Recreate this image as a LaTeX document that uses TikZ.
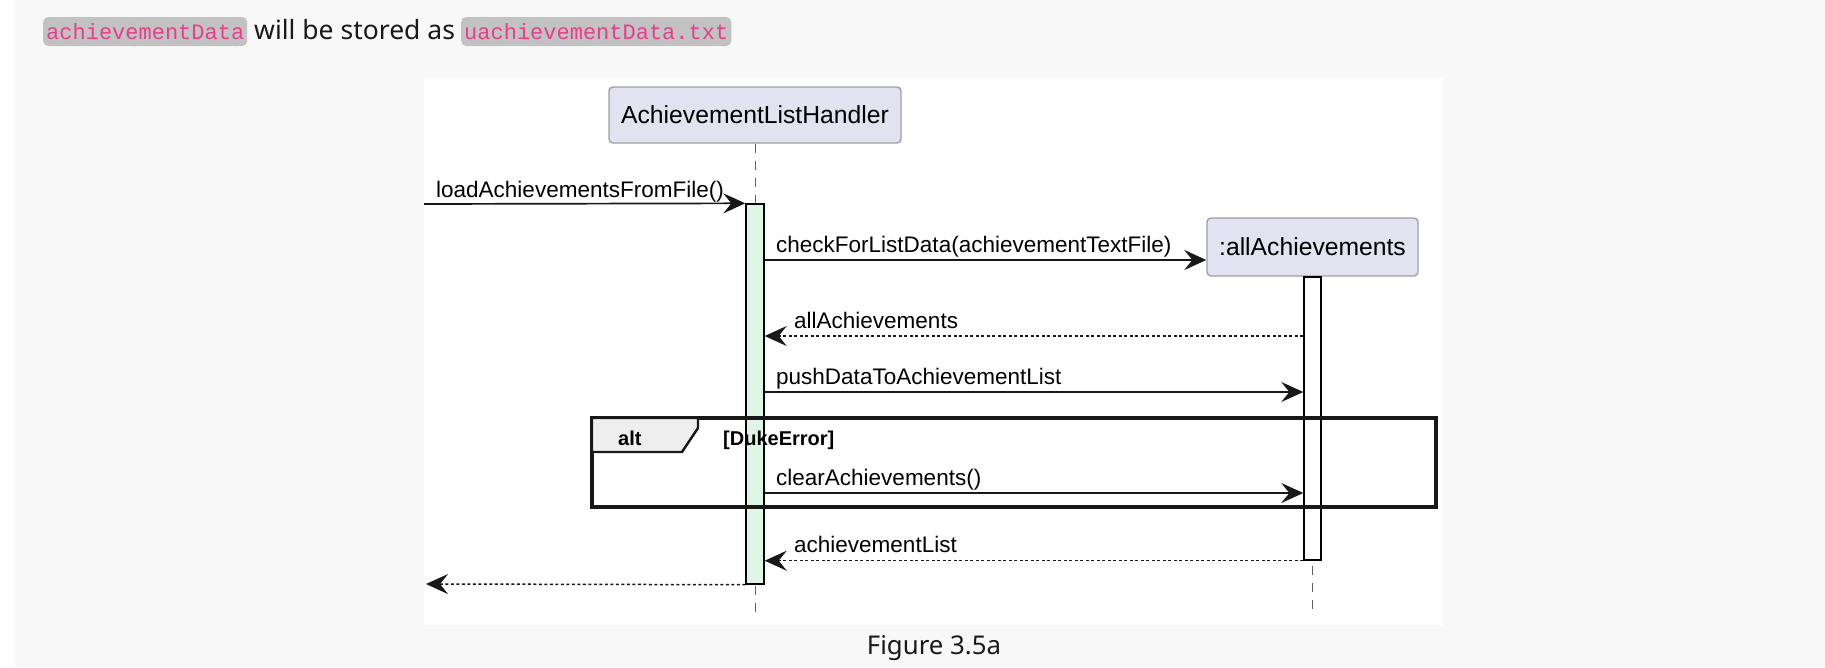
\documentclass[tikz,border=0pt]{standalone}
\usepackage{fontspec}
\setmainfont{Noto Sans}
\newfontfamily\umlfont{Liberation Sans}
\newfontfamily\codefont{Liberation Mono}
\usetikzlibrary{arrows.meta}
\definecolor{pagebg}{HTML}{F8F8F8}
\definecolor{codebg}{HTML}{C2C2C2}
\definecolor{codefg}{HTML}{E83E8C}
\definecolor{partfill}{HTML}{E2E2F0}
\definecolor{partdraw}{HTML}{A0A0A0}
\definecolor{actfill}{HTML}{DFF5E6}
\definecolor{tabfill}{HTML}{EEEEEE}
\definecolor{lineclr}{HTML}{181818}
\definecolor{lifeclr}{HTML}{606060}
\begin{document}
\begin{tikzpicture}[x=1pt,y=-1pt,
  codechip/.style={fill=codebg, rounded corners=5pt, text=codefg, inner xsep=3pt, inner ysep=0pt,
    text height=22pt, text depth=7pt, font=\codefont\fontsize{22}{26}\selectfont, anchor=base west},
  bodytext/.style={inner sep=0pt, anchor=base west, text=black!90},
  part/.style={draw=partdraw, line width=1.4pt, fill=partfill, rounded corners=4pt,
    font=\umlfont\fontsize{24.7}{28}\selectfont, inner sep=0pt},
  actbar/.style={draw=black, line width=1.4pt, inner sep=0pt, minimum width=18pt},
  lifeline/.style={draw=lifeclr, line width=1pt, dash pattern=on 9pt off 8pt},
  msg/.style={draw=lineclr, line width=1.7pt, -{Stealth[length=22pt,width=20pt,inset=8pt]}},
  ret/.style={msg, line width=1.5pt, dash pattern=on 3pt off 2.5pt},
  lbl/.style={inner sep=0pt, anchor=base west, font=\umlfont\fontsize{22.5}{26}\selectfont},
  bold/.style={inner sep=0pt, anchor=base west, font=\umlfont\bfseries\fontsize{20}{24}\selectfont}
]
\useasboundingbox (0,0) rectangle (1825,667);
\fill[white] (0,0) rectangle (1825,667);
\fill[pagebg] (15,0) rectangle (1825,667);
\fill[white] (424,78) rectangle (1443,625);

% top sentence
\node[codechip] (c1) at (43,39) {achievementData};
\node[bodytext, font=\fontsize{26.5}{31}\selectfont] (t1) at (254,39) {will be stored as};
\node[codechip] (c2) at (461,39) {uachievementData.txt};

% participants
\node[part, minimum width=292pt, minimum height=56pt] (h1) at (755,115) {AchievementListHandler};
\node[part, minimum width=211pt, minimum height=58pt] (a1) at (1312.5,247) {:allAchievements};

% lifelines
\coordinate (e1) at (755,613);
\coordinate (e2) at (1312.5,616);
\draw[lifeline] (h1.south) -- (e1);
\draw[lifeline] (a1.south) -- (e2);

% activation bars
\node[actbar, fill=actfill, minimum height=380pt] (b1) at (755,394) {};
\node[actbar, fill=white, minimum width=17pt, minimum height=283pt] (b2) at (1312.5,418.5) {};

% alt frame
\draw[line width=3.2pt, draw=lineclr] (592,418) rectangle (1436,507);
\draw[line width=2.4pt, draw=lineclr, fill=tabfill] (592,418) -- (698,418) -- (698,428) -- (682,452) -- (592,452) -- cycle;
\node[bold] (altl) at (618,445) {alt};
\node[bold] (guard) at (723,445) {[DukeError]};

% y-levels
\coordinate (ls) at (424,204);
\coordinate (y2) at (0,260);
\coordinate (y3) at (0,336);
\coordinate (y4) at (0,392);
\coordinate (y5) at (0,493);
\coordinate (re) at (426,584);

% messages
\draw[msg] (ls) -- (b1.north west);
\node[lbl] (l1) at (436,197) {loadAchievementsFromFile()};
\draw[msg] (b1.east |- y2) -- (a1.west |- y2);
\node[lbl] (l2) at (776,252) {checkForListData(achievementTextFile)};
\draw[ret] (b2.west |- y3) -- (b1.east |- y3);
\node[lbl] (l3) at (794,328) {allAchievements};
\draw[msg] (b1.east |- y4) -- (b2.west |- y4);
\node[lbl] (l4) at (776,384) {pushDataToAchievementList};
\draw[msg] (b1.east |- y5) -- (b2.west |- y5);
\node[lbl] (l5) at (776,485) {clearAchievements()};
\draw[ret] (b2.south west) -- (b1.east |- b2.south west);
\node[lbl] (l6) at (794,552) {achievementList};
\draw[ret] (b1.south west) -- (re);

% caption
\node[bodytext, anchor=base, font=\fontsize{25.8}{30}\selectfont] (cap) at (934,654) {Figure 3.5a};
\end{tikzpicture}
\end{document}
